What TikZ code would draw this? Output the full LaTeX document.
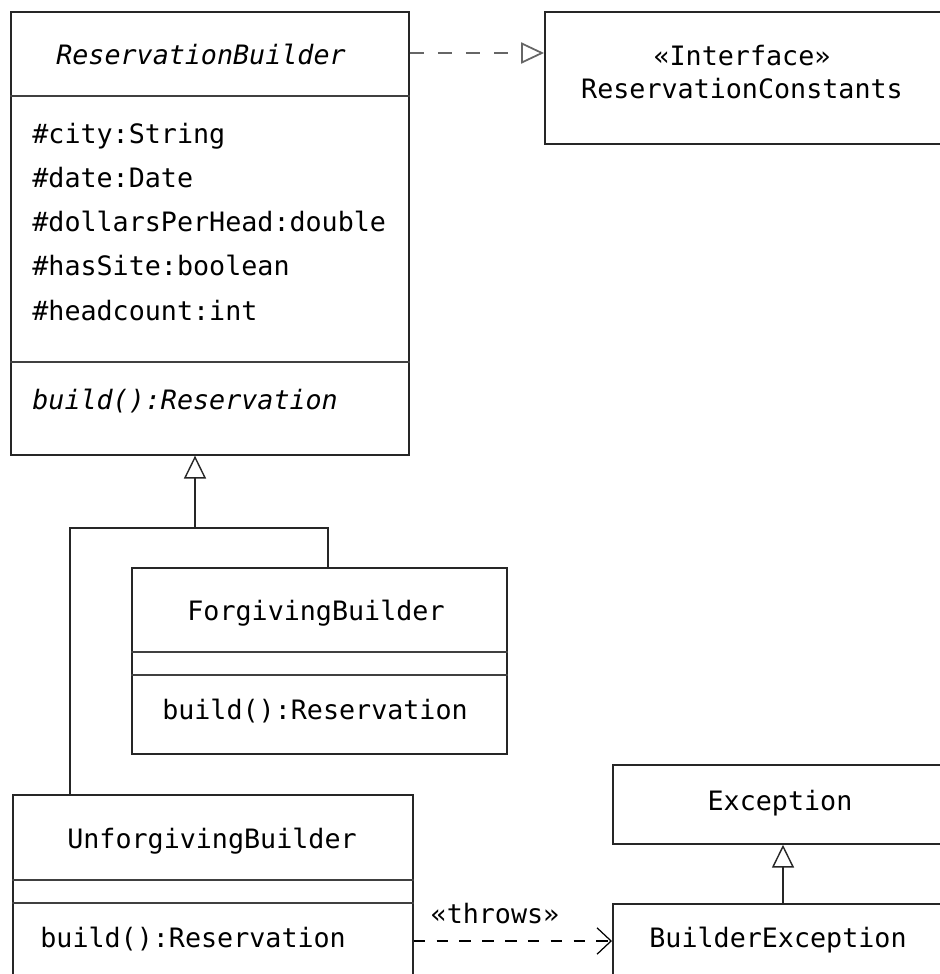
\documentclass[tikz,border=0pt]{standalone}
\usepackage{fontspec}
\setmonofont{DejaVu Sans Mono}
\usetikzlibrary{calc,arrows.meta,positioning}

\tikzset{
	classbox/.style={draw=black!85, line width=1pt, rectangle, inner sep=0pt, anchor=north west},
	divider/.style={draw=black!75, line width=1pt},
	umltext/.style={font=\ttfamily\fontsize{15.2}{18}\selectfont, inner sep=0pt},
	inherit/.style={draw=black!85, line width=0.8pt, -{Triangle[open, length=13pt, width=12.5pt]}},
	realize/.style={black!60, line width=1.3pt, dash pattern=on 8pt off 8pt, -{Triangle[open, length=13pt, width=12pt, line width=1pt]}},
	depend/.style={line width=0.7pt, dash pattern=on 6.6pt off 6.4pt, -{Straight Barb[length=8pt, width=15pt]}}
}

\begin{document}
\begin{tikzpicture}[x=0.02cm, y=-0.02cm]
	\clip (0,0) rectangle (940,974);
	\coordinate (origin) at (0, 0);

	% ReservationBuilder
	\node[classbox, minimum width=7.96cm, minimum height=8.86cm] (rb) at ($(origin) + (10, 11)$) {};
	\draw[divider] ($(rb.north west) + (0, 85)$) -- ($(rb.north east) + (0, 85)$);
	\draw[divider] ($(rb.north west) + (0, 351)$) -- ($(rb.north east) + (0, 351)$);
	\node[umltext, anchor=base] (rbname) at ($(rb.north west) + (191, 53)$) {\itshape ReservationBuilder};
	\foreach \attr [count=\i] in {\#city:String, \#date:Date, \#dollarsPerHead:double, \#hasSite:boolean, \#headcount:int} {
		\node[umltext, anchor=base west] (rbattr\i) at ($(rb.north west) + (22, 132 + 44.3*\i - 44.3)$) {\attr};
	}
	\node[umltext, anchor=base west] (rbop) at ($(rb.north west) + (22, 398)$) {\itshape build():Reservation};

	% ReservationConstants
	\node[classbox, minimum width=8.4cm, minimum height=2.64cm] (ic) at ($(origin) + (544, 11)$) {};
	\node[umltext, anchor=base] (icster) at ($(ic.north west) + (198, 54)$) {«Interface»};
	\node[umltext, anchor=base] (icname) at ($(ic.north west) + (198, 87)$) {ReservationConstants};
	\draw[realize] ($(rb.north east) + (0, 42)$) -- ($(ic.north west) + (0, 42)$);

	% ForgivingBuilder
	\node[classbox, minimum width=7.5cm, minimum height=3.72cm] (fb) at ($(origin) + (131, 567)$) {};
	\draw[divider] ($(fb.north west) + (0, 85)$) -- ($(fb.north east) + (0, 85)$);
	\draw[divider] ($(fb.north west) + (0, 108)$) -- ($(fb.north east) + (0, 108)$);
	\node[umltext, anchor=base] (fbname) at ($(fb.north west) + (185, 53)$) {ForgivingBuilder};
	\node[umltext, anchor=base] (fbop) at ($(fb.north west) + (184, 152)$) {build():Reservation};

	% UnforgivingBuilder
	\node[classbox, minimum width=8cm, minimum height=5cm] (ub) at ($(origin) + (12, 794)$) {};
	\draw[divider] ($(ub.north west) + (0, 86)$) -- ($(ub.north east) + (0, 86)$);
	\draw[divider] ($(ub.north west) + (0, 109)$) -- ($(ub.north east) + (0, 109)$);
	\node[umltext, anchor=base] (ubname) at ($(ub.north west) + (200, 54)$) {UnforgivingBuilder};
	\node[umltext, anchor=base west] (ubop) at ($(ub.north west) + (28, 153)$) {build():Reservation};

	% inheritance tree
	\coordinate (gj) at ($(origin) + (195, 528)$);
	\draw[draw=black!85, line width=0.8pt] ($(ub.north west) + (58, 0)$) |- (gj) -| ($(fb.north west) + (197, 0)$);
	\draw[inherit] (gj) -- (gj |- rb.south);

	% Exception
	\node[classbox, minimum width=7cm, minimum height=1.58cm] (exc) at ($(origin) + (612, 764)$) {};
	\node[umltext, anchor=base] (excname) at ($(exc.north west) + (168, 46)$) {Exception};
	\node[classbox, minimum width=7cm, minimum height=3cm] (bex) at ($(origin) + (612, 903)$) {};
	\node[umltext, anchor=base] (bexname) at ($(bex.north west) + (166, 44)$) {BuilderException};
	\draw[inherit] ($(bex.north west) + (171, 0)$) -- ($(exc.south west) + (171, 0)$);

	% throws
	\draw[depend] ($(ub.north east) + (0, 147)$) -- ($(bex.north west) + (0, 38)$);
	\node[umltext, anchor=base] (throws) at ($(origin) + (495, 923)$) {«throws»};
\end{tikzpicture}
\end{document}
